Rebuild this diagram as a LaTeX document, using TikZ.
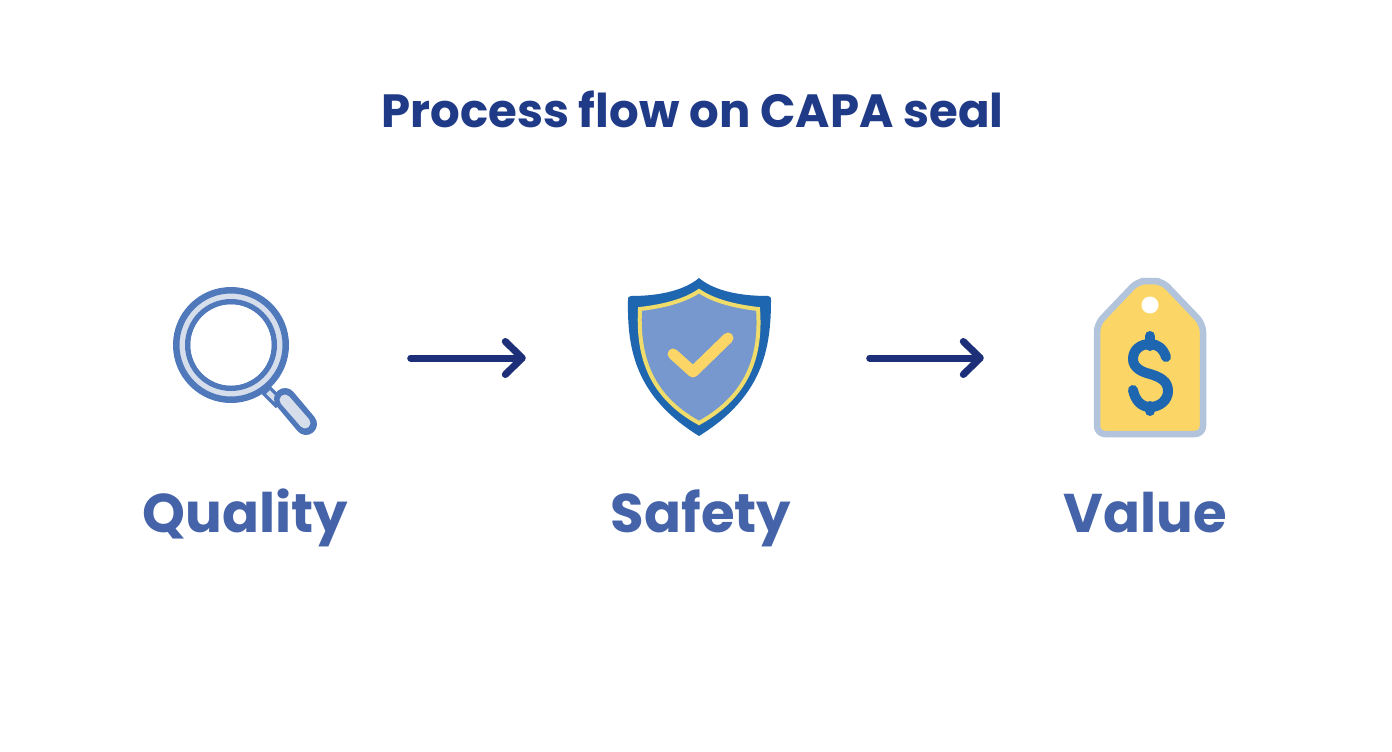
\documentclass[tikz,border=0pt]{standalone}
\usepackage{fontspec}
\setmainfont{Poppins}
\usetikzlibrary{arrows.meta}
\definecolor{navy}{HTML}{1C2F78}
\definecolor{titleblue}{HTML}{1F3A86}
\definecolor{labelblue}{HTML}{4563A8}
\definecolor{ringblue}{HTML}{5079BC}
\definecolor{ringlight}{HTML}{D6DEEC}
\definecolor{shielddark}{HTML}{1F66B0}
\definecolor{shieldfill}{HTML}{7698CE}
\definecolor{goldline}{HTML}{EFDC6A}
\definecolor{gold}{HTML}{FBD666}
\definecolor{tagedge}{HTML}{B2C3DC}
\tikzset{
  flow/.style={draw=navy,line width=7pt,line cap=round,
    -{Straight Barb[round,length=17pt,width=33pt,line width=7pt]}},
  iconbox/.style={inner sep=0pt,minimum height=160pt},
  heading/.style={text=titleblue,font=\fontsize{46.6}{50}\selectfont\bfseries,inner sep=0pt,anchor=base},
  label/.style={text=labelblue,font=\fontsize{54.5}{58}\selectfont\bfseries,inner sep=0pt,anchor=base},
}
\begin{document}
\begin{tikzpicture}[x=1pt,y=-1pt]
\useasboundingbox (0,0) rectangle (1392,752);
\fill[white] (0,0) rectangle (1392,752);
\node[heading] (title) at (692.5,127) {Process flow on CAPA seal};
% icon frames
\node[iconbox,minimum width=145pt] (iconq) at (244.5,358) {};
\node[iconbox,minimum width=141pt] (icons) at (699.5,358) {};
\node[iconbox,minimum width=114pt] (iconv) at (1150,358) {};
% magnifier
\draw[ringblue,line width=12pt] (266,390) -- (280,404);
\draw[ringlight,line width=5pt] (268,392) -- (276,400);
\fill[ringlight] (231,345) circle (52);
\draw[ringblue,line width=6.5pt] (231,345) circle (54.75);
\draw[ringblue,line width=5.5pt] (231,345) circle (43.25);
\fill[white] (231,345) circle (40.5);
\draw[ringblue,line width=22pt,line cap=round] (285,399) -- (306,424);
\draw[ringlight,line width=11pt,line cap=round] (285,400) -- (305,423);
% shield
\fill[shielddark] (699,278)
  .. controls (712,289) and (735,296) .. (768,296)
  .. controls (771,296) and (771,298) .. (771,300)
  .. controls (771,350) and (762,397) .. (699,436)
  .. controls (636,397) and (627,350) .. (628,300)
  .. controls (628,298) and (628,296) .. (631,296)
  .. controls (663,296) and (686,289) .. (699,278) -- cycle;
\filldraw[fill=shieldfill,draw=goldline,line width=4pt] (699,291)
  .. controls (712,300) and (732,306) .. (758,309)
  .. controls (761,350) and (752,394) .. (699,423)
  .. controls (646,394) and (638,350) .. (640,309)
  .. controls (666,306) and (686,300) .. (699,291) -- cycle;
\draw[gold,line width=11pt,line cap=round,line join=round] (673,354) -- (693,372) -- (728,338);
% tag
\filldraw[fill=gold,draw=tagedge,line width=6.5pt,line join=round,rounded corners=8pt]
  (1150,281) -- (1162,281) -- (1203,324) -- (1203,434) -- (1097,434) -- (1097,324) -- (1138,281) -- cycle;
\fill[white] (1150,305) circle (8.5);
\draw[shielddark,line width=10pt,line cap=round] (1150,336) -- (1150,346);
\draw[shielddark,line width=10pt,line cap=round] (1150,406) -- (1150,411);
\draw[shielddark,line width=10pt,line cap=round] (1166,357)
  .. controls (1163,348) and (1157,344) .. (1150,344)
  .. controls (1140,344) and (1133,350) .. (1133,359)
  .. controls (1133,368) and (1142,372) .. (1150,374)
  .. controls (1160,377) and (1168,381) .. (1168,391)
  .. controls (1168,400) and (1160,407) .. (1150,407)
  .. controls (1141,407) and (1135,400) .. (1133,390);
% connectors
\draw[flow] ([xshift=93.5pt]iconq.east) -- ([xshift=-103pt]icons.west);
\draw[flow] ([xshift=99.5pt]icons.east) -- ([xshift=-109pt]iconv.west);
% labels
\node[label] (lq) at (245.5,532) {Quality};
\node[label] (ls) at (701,532) {Safety};
\node[label] (lv) at (1145.5,532) {Value};
\end{tikzpicture}
\end{document}
